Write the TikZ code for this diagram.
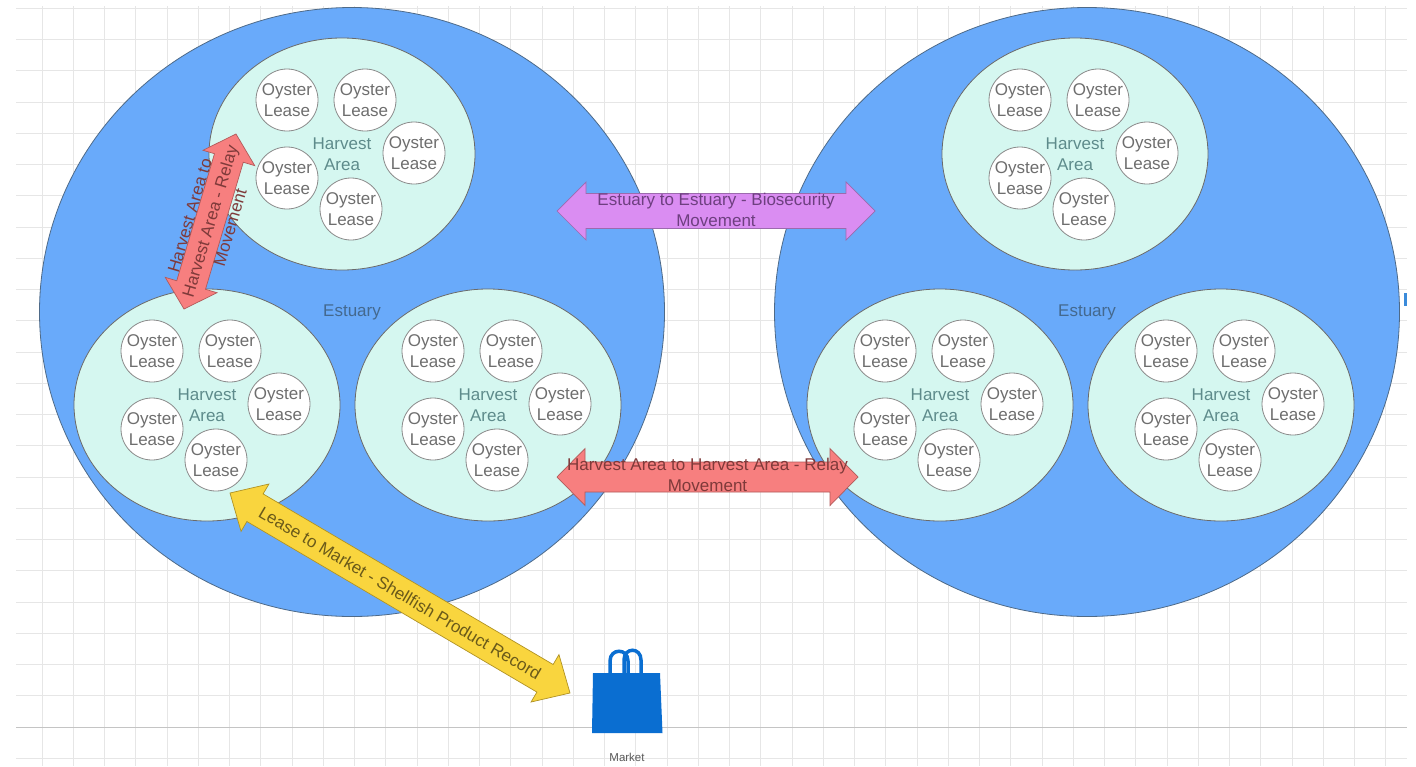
\documentclass[tikz,border=0pt]{standalone}
\usepackage{fontspec}
\setmainfont{Liberation Sans}
\usetikzlibrary{shapes.geometric,calc}
\definecolor{gridc}{HTML}{E6E6E6}
\definecolor{griddark}{HTML}{C4C4C4}
\definecolor{estfill}{HTML}{69AAFA}
\definecolor{estdraw}{HTML}{4E6A88}
\definecolor{esttext}{HTML}{44698F}
\definecolor{harvfill}{HTML}{D5F7F0}
\definecolor{harvdraw}{HTML}{6A6A6A}
\definecolor{harvtext}{HTML}{5E8B8B}
\definecolor{leasedraw}{HTML}{8A8A8A}
\definecolor{leasetext}{HTML}{6E6E6E}
\definecolor{biofill}{HTML}{DA8DF2}
\definecolor{biodraw}{HTML}{9C6AAE}
\definecolor{biotext}{HTML}{6E3F80}
\definecolor{relfill}{HTML}{F77F7F}
\definecolor{reldraw}{HTML}{B25A5A}
\definecolor{reltext}{HTML}{7F3A3A}
\definecolor{yelfill}{HTML}{F9D53E}
\definecolor{yeldraw}{HTML}{B09224}
\definecolor{yeltext}{HTML}{6A5A1A}
\definecolor{bagblue}{HTML}{0A6ED1}
\newcommand{\blockarrow}[6]{%
  \draw[#6] (#1)
  -- ($(#1)!#5!(#2)!#4!90:(#2)$)
  -- ($(#1)!#5!(#2)!#3!90:(#2)$)
  -- ($(#2)!#5!(#1)!#3!-90:(#1)$)
  -- ($(#2)!#5!(#1)!#4!-90:(#1)$)
  -- (#2)
  -- ($(#2)!#5!(#1)!#4!90:(#1)$)
  -- ($(#2)!#5!(#1)!#3!90:(#1)$)
  -- ($(#1)!#5!(#2)!#3!-90:(#2)$)
  -- ($(#1)!#5!(#2)!#4!-90:(#2)$)
  -- cycle;}
\newcommand{\harvestarea}[3]{%
  \node[harvest] (#1) at (#2,#3+2) {Harvest\\Area};
  \node[lease] (#1-1) at (#2-55,#3-52) {Oyster\\Lease};
  \node[lease] (#1-2) at (#2+23,#3-52) {Oyster\\Lease};
  \node[lease] (#1-3) at (#2+72,#3+1) {Oyster\\Lease};
  \node[lease] (#1-4) at (#2-55,#3+26) {Oyster\\Lease};
  \node[lease] (#1-5) at (#2+9,#3+57) {Oyster\\Lease};}
\begin{document}
\begin{tikzpicture}[x=1pt,y=-1pt,
  txt/.style={font=\fontsize{17}{20.5}\selectfont, align=center},
  estuary/.style={ellipse, draw=estdraw, line width=0.8pt, fill=estfill,
    minimum width=625pt, minimum height=609pt, inner sep=0pt, txt, text=esttext},
  harvest/.style={ellipse, draw=harvdraw, line width=0.8pt, fill=harvfill,
    minimum width=266pt, minimum height=232pt, inner sep=0pt, txt, text=harvtext},
  lease/.style={circle, draw=leasedraw, line width=0.8pt, fill=white,
    minimum size=62pt, inner sep=0pt, txt, text=leasetext},
  gridline/.style={gridc, line width=0.9pt},
  bioarrow/.style={fill=biofill, draw=biodraw, line width=0.7pt},
  relarrow/.style={fill=relfill, draw=reldraw, line width=0.7pt},
  yelarrow/.style={fill=yelfill, draw=yeldraw, line width=0.7pt},
  arrowtext/.style={txt, inner sep=0pt, font=\fontsize{17}{21}\selectfont},
  handle/.style={bagblue, line width=3.5pt}]
\useasboundingbox (0,0) rectangle (1416,766);
\fill[white] (0,0) rectangle (1416,766);
% grid
\foreach \i in {0,...,43} \draw[gridline] ({42+31.25*\i},6) -- ({42+31.25*\i},766);
\foreach \j in {0,...,24} \draw[gridline] (16,{8.25+31.25*\j}) -- (1407,{8.25+31.25*\j});
\draw[griddark, line width=1pt] (16,727) -- (1407,727);
% estuaries
\node[estuary] (E1) at (352,312) {Estuary};
\node[estuary] (E2) at (1087,312) {Estuary};
% harvest areas and leases
\harvestarea{HA1}{342}{152}
\harvestarea{HA2}{207}{403}
\harvestarea{HA3}{488}{403}
\harvestarea{HB1}{1075}{152}
\harvestarea{HB2}{940}{403}
\harvestarea{HB3}{1221}{403}
% small blue tick at right edge
\fill[bagblue!80] (1404,293) rectangle (1406.5,306);
% market bag
\coordinate (market) at (627,700);
\fill[bagblue] (593,673) -- (660,673) -- (662.5,733) -- (592,733) -- cycle;
\draw[handle] (610,674) -- (610,661) .. controls (610,648) and (628,648) .. (628,661) -- (628,674);
\draw[handle] (624,674) -- (624,660) .. controls (624,647) and (641,647) .. (641,660) -- (641,674);
\node[font=\fontsize{11.5}{13}\selectfont, text=black!65] (marketlabel) at (627,757) {Market};
% arrow end points
\coordinate (bioA) at (557,211);
\coordinate (bioB) at (875,211);
\coordinate (relA) at (557,477);
\coordinate (relB) at (858,477);
\coordinate (diaA) at (184,309);
\coordinate (diaB) at (236,134);
\coordinate (yelA) at (230,493);
\coordinate (yelB) at (570,693);
% arrows
\blockarrow{bioA}{bioB}{17.5pt}{29pt}{29pt}{bioarrow}
\path (bioA) -- (bioB) node[midway, arrowtext, text=biotext, yshift=1.5pt] (biotxt) {Estuary to Estuary - Biosecurity\\Movement};
\blockarrow{relA}{relB}{15pt}{28.5pt}{28pt}{relarrow}
\path (relA) -- (relB) node[midway, arrowtext, text=reltext, yshift=2.5pt] (reltxt) {Harvest Area to Harvest Area - Relay\\Movement};
\blockarrow{diaA}{diaB}{15pt}{27pt}{25pt}{relarrow}
\path (diaA) -- (diaB) node[midway, sloped, arrowtext, text=reltext] (diatxt) {Harvest Area to\\Harvest Area - Relay\\Movement};
\blockarrow{yelA}{yelB}{16pt}{27.5pt}{29pt}{yelarrow}
\path (yelA) -- (yelB) node[midway, sloped, arrowtext, text=yeltext] (yeltxt) {Lease to Market - Shellfish Product Record};
\end{tikzpicture}
\end{document}
